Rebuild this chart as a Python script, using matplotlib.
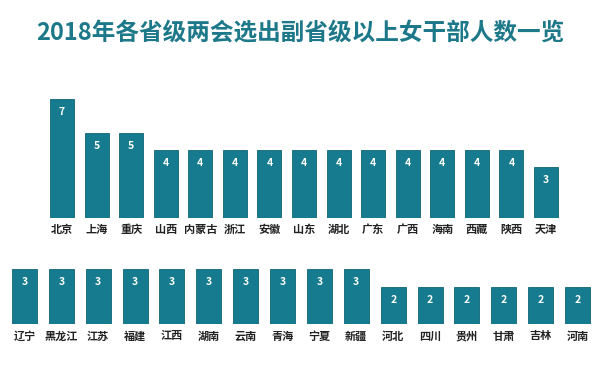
import matplotlib
matplotlib.use("Agg")
import matplotlib.pyplot as plt

plt.rcParams['font.family'] = ['Noto Sans CJK SC', 'DejaVu Sans']

title = "2018年各省级两会选出副省级以上女干部人数一览"
top_cats = ["北京", "上海", "重庆", "山西", "内蒙古", "浙江", "安徽", "山东", "湖北",
            "广东", "广西", "海南", "西藏", "陕西", "天津"]
top_vals = [7, 5, 5, 4, 4, 4, 4, 4, 4, 4, 4, 4, 4, 4, 3]
bot_cats = ["辽宁", "黑龙江", "江苏", "福建", "江西", "湖南", "云南", "青海", "宁夏",
            "新疆", "河北", "四川", "贵州", "甘肃", "吉林", "河南"]
bot_vals = [3, 3, 3, 3, 3, 3, 3, 3, 3, 3, 2, 2, 2, 2, 2, 2]

W, H = 600, 368
BAR = "#167b8f"
TITLE_C = "#1d7889"

fig = plt.figure(figsize=(6, 3.68), dpi=100)
fig.patch.set_facecolor("white")

def make_axes(cats, vals, first_c, last_c, base_y, top_y, ymax, width_px, label_y):
    n = len(cats)
    sp = (last_c - first_c) / (n - 1)
    ax = fig.add_axes([0, (H - base_y) / H, 1, (base_y - top_y) / H])
    ax.set_xlim(-first_c / sp, (n - 1) + (W - last_c) / sp)
    ax.set_ylim(0, ymax)
    ax.axis("off")
    xs = list(range(n))
    ax.bar(xs, vals, width=width_px / sp, color=BAR, edgecolor="#0f6476", linewidth=0.6)
    unit = (base_y - top_y) / ymax
    for x, v, c in zip(xs, vals, cats):
        ax.text(x, v - 13 / unit, str(v), ha="center", va="center", color="white",
                fontsize=7.5, fontweight="bold")
        ax.text(x, -(label_y - base_y) / unit, c, ha="center", va="center",
                color="#222222", fontsize=8, fontweight="bold", clip_on=False)
    return ax

make_axes(top_cats, top_vals, 62, 546, 218, 99, 7, 24, 229)
make_axes(bot_cats, bot_vals, 24.5, 577.5, 324, 269, 3, 25, 336)

fig.text(0.5, 1 - 33 / H, title, ha="center", va="center", color=TITLE_C,
         fontsize=17, fontweight="bold")

fig.savefig("out.png", dpi=100, facecolor="white")
